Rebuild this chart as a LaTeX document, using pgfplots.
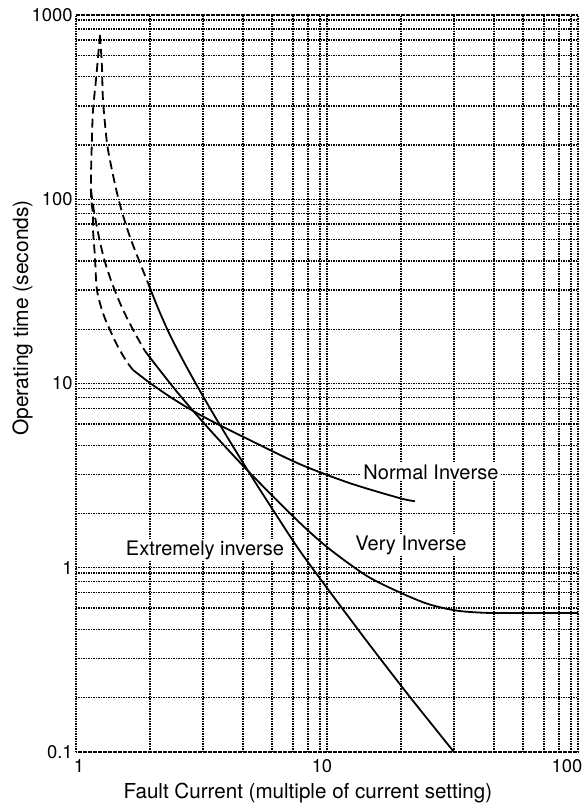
\documentclass[border=0pt]{standalone}
\usepackage{fontspec}
\setmainfont{TeX Gyre Heros}
\usepackage{pgfplots}
\pgfplotsset{compat=1.18}

\begin{document}
\begin{tikzpicture}
\begin{loglogaxis}[
  name=ax,
  scale only axis,
  width=251pt, height=368.5pt,
  xmin=1, xmax=100, ymin=0.1, ymax=1000,
  xtick={1,10,100},
  xticklabels={{\hspace*{3pt}1},{\hspace*{-5pt}10},{\hspace*{-11pt}100}},
  ytick={0.1,1,10,100,1000},
  yticklabels={0.1,1,10,100,1000},
  minor xtick={1.97,3.21,4.62,6.04,7.33,8.4,9.38,19.7,32.1,46.2,60.4,73.3,84,93.8},
  minor ytick={0.197,0.321,0.462,0.604,0.733,0.84,0.938,
               1.97,3.21,4.62,6.04,7.33,8.4,9.38,
               19.7,32.1,46.2,60.4,73.3,84,93.8,
               197,321,462,604,733,840,938},
  grid=both,
  grid style={black, line width=0.7pt, dash pattern=on 0.6pt off 0.65pt},
  major grid style={black, line width=0.7pt, dash pattern=on 0.6pt off 0.65pt},
  minor grid style={black, line width=0.7pt, dash pattern=on 0.6pt off 0.65pt},
  axis line style={black, line width=0.7pt, dash pattern=on 0.6pt off 0.65pt},
  tick style={draw=none},
  ticklabel style={font=\fontsize{9.2}{10}\selectfont},
  yticklabel style={inner xsep=1.5pt},
  xlabel={Fault Current (multiple of current setting)},
  ylabel={Operating time (seconds)},
  every axis x label/.style={at={(rel axis cs:0.462,0)}, anchor=base, yshift=-23pt,
                             font=\fontsize{10.3}{12}\selectfont},
  every axis y label/.style={at={(rel axis cs:-0.0956,0.589)}, rotate=90, anchor=base,
                             font=\fontsize{10.5}{12}\selectfont},
  curve/.style={black, line width=0.9pt, smooth},
  dcurve/.style={black, line width=0.9pt, smooth, dash pattern=on 4.5pt off 2.5pt},
]
% Extremely inverse
\addplot[dcurve] coordinates {(1.246,779) (1.269,522) (1.281,345.7) (1.329,202) (1.391,144.1)
  (1.457,108.1) (1.525,85.3) (1.641,62.4) (1.799,45.1) (1.936,35.1)};
\addplot[curve] coordinates {(1.936,35.1) (2.121,25.69) (2.368,18.33) (2.718,12.76) (3.119,9.11)
  (3.747,5.95) (4.934,3.228) (6.207,1.982) (7.805,1.233) (10.86,0.668) (15.11,0.367)
  (21.41,0.1988) (32.06,0.1)};
% Normal inverse
\addplot[dcurve] coordinates {(1.246,779) (1.224,592) (1.201,444) (1.169,305) (1.158,217.7)
  (1.148,138.8) (1.148,102.9) (1.169,82.1) (1.169,68.1) (1.190,48.6) (1.212,32.2) (1.281,24.1)
  (1.366,19.5) (1.470,15.8) (1.597,13.08) (1.687,11.84)};
\addplot[curve] coordinates {(1.687,11.84) (1.972,10.06) (2.368,8.47) (2.768,7.42) (3.420,6.32)
  (4.934,4.925) (7.805,3.648) (12.35,2.876) (19.54,2.385) (22.41,2.297)};
% Very inverse
\addplot[dcurve] coordinates {(1.148,112.3) (1.169,93.1) (1.201,75.2) (1.246,58.6) (1.305,45.6)
  (1.391,35.1) (1.497,27.35) (1.611,22.11) (1.751,17.88) (1.883,15.01)};
\addplot[curve] coordinates {(1.883,15.01) (2.161,11.77) (2.596,8.61) (3.420,5.59) (4.934,3.267)
  (7.805,1.750) (10.28,1.258) (14.43,0.902) (19.54,0.734) (24.57,0.644) (28.99,0.605)
  (33.88,0.582) (40.71,0.571) (48.9,0.568) (100,0.568)};

\node[fill=white, inner sep=1pt, font=\fontsize{10}{12}\selectfont] at (axis cs:25.96,3.31) {Normal Inverse};
\node[fill=white, inner sep=1pt, font=\fontsize{10}{12}\selectfont] at (axis cs:21.61,1.329) {Very Inverse};
\node[fill=white, inner sep=1pt, font=\fontsize{10}{12}\selectfont] at (axis cs:3.266,1.248) {Extremely inverse};
\end{loglogaxis}
\pgfresetboundingbox
\path[use as bounding box] ([xshift=-38pt,yshift=-26.5pt]ax.south west) rectangle ([xshift=3.5pt,yshift=7.5pt]ax.north east);
\end{tikzpicture}
\end{document}
